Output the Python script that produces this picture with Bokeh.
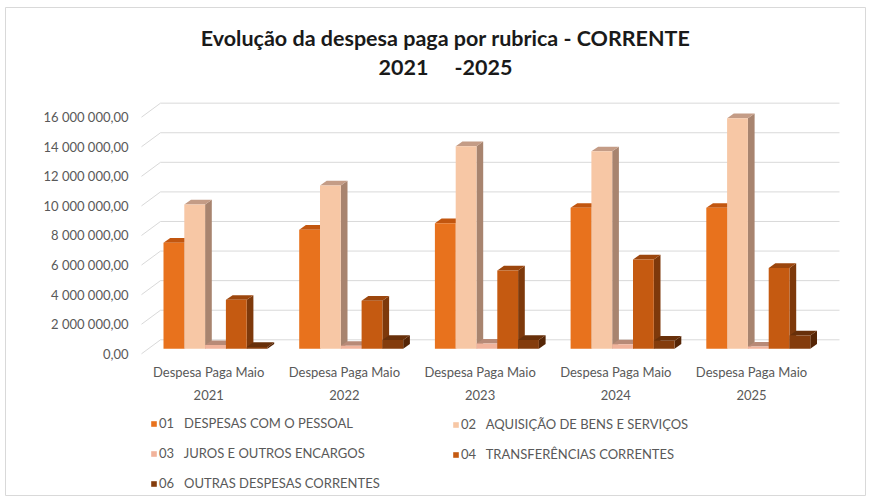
from bokeh.plotting import figure
from bokeh.models import Range1d, FixedTicker, LinearAxis, Legend, LegendItem
from bokeh.core.properties import value
from bokeh.embed import file_html
from bokeh.resources import INLINE

# ---------------- data ----------------
categories = ["Despesa Paga Maio 2021", "Despesa Paga Maio 2022", "Despesa Paga Maio 2023",
              "Despesa Paga Maio 2024", "Despesa Paga Maio 2025"]
category_labels = ["Despesa Paga Maio\n2021", "Despesa Paga Maio\n2022", "Despesa Paga Maio\n2023",
                   "Despesa Paga Maio\n2024", "Despesa Paga Maio\n2025"]
series_names = ["01\u00a0\u00a0 DESPESAS COM O PESSOAL", "02\u00a0\u00a0 AQUISIÇÃO DE BENS E SERVIÇOS",
                "03\u00a0\u00a0 JUROS E OUTROS ENCARGOS", "04\u00a0\u00a0 TRANSFERÊNCIAS CORRENTES",
                "06\u00a0\u00a0 OUTRAS DESPESAS CORRENTES"]
s01 = [7170000, 8050000, 8490000, 9530000, 9530000]
s02 = [9760000, 11040000, 13700000, 13350000, 15590000]
s03 = [250000, 200000, 350000, 300000, 150000]
s04 = [3310000, 3250000, 5290000, 6040000, 5470000]
s06 = [120000, 600000, 600000, 550000, 900000]
y_ticks = [0, 2000000, 4000000, 6000000, 8000000, 10000000, 12000000, 14000000, 16000000]
y_tick_labels = ["0,00", "2 000 000,00", "4 000 000,00", "6 000 000,00", "8 000 000,00",
                 "10 000 000,00", "12 000 000,00", "14 000 000,00", "16 000 000,00"]
title_line1 = "Evolução da despesa paga por rubrica - CORRENTE"
title_line2 = "2021\u00a0\u00a0\u00a0\u00a0 -2025"

series = [s01, s02, s03, s04, s06]
front_colors = ["#E8721D", "#F7C7A5", "#F1B39B", "#C55A11", "#843C0C"]
top_colors = ["#C2560F", "#C49C86", "#B88A77", "#9C460D", "#68300A"]
side_colors = ["#A84C0E", "#A8846F", "#9C7262", "#7E390B", "#552506"]

# ---------------- geometry (page pixels -> data units) ----------------
W, H = 870, 500
BL, BT, BR, BB = 5, 7, 5, 5          # frame inset from canvas edges
FW, FH = W - BL - BR, H - BT - BB
X0 = 208.2        # page x of first category centre (label plane)
CAT_PX = 135.7    # px per category
Y0 = 353.3        # page y of value 0 (label plane)
M_PX = 14.79      # px per 1 000 000


def px_x(page_x):
    return (page_x - X0) / CAT_PX


def px_y(page_y):
    return (Y0 - page_y) / M_PX * 1e6


def dxu(px):
    return px / CAT_PX


def dyu(px):
    return px / M_PX * 1e6


x_range = Range1d(px_x(BL), px_x(BL + FW))
y_range = Range1d(px_y(BT + FH), px_y(BT))

p = figure(width=W, height=H, x_range=x_range, y_range=y_range,
           output_backend="svg", toolbar_location=None,
           x_axis_location=None, y_axis_location=None,
           min_border_left=BL, min_border_right=BR, min_border_top=BT, min_border_bottom=BB)
p.title.visible = False
p.xgrid.visible = False
p.ygrid.visible = False
p.outline_line_color = "#D9D9D9"
p.outline_line_width = 1
p.background_fill_color = "white"
p.border_fill_color = "white"

FONT = "Lato"
TXT = "#595959"

wall_dx, wall_dy = dxu(19), dyu(14)
x_left = px_x(141)
x_right = px_x(839)

# back wall gridlines and left diagonals
p.segment(x0=[x_left + wall_dx] * len(y_ticks), y0=[t + wall_dy for t in y_ticks],
          x1=[x_right] * len(y_ticks), y1=[t + wall_dy for t in y_ticks],
          line_color="#D9D9D9", line_width=1)
p.segment(x0=[x_left] * len(y_ticks), y0=y_ticks,
          x1=[x_left + wall_dx] * len(y_ticks), y1=[t + wall_dy for t in y_ticks],
          line_color="#D9D9D9", line_width=1)

# bars (pseudo 3D)
bw = dxu(20.8)
fdx, fdy = dxu(6.8), dyu(5)
ddx, ddy = dxu(6.7), dyu(4.7)
n = len(series)
front_renderers = []
for j, vals in enumerate(series):
    lefts = [i - n / 2 * bw + j * bw + fdx for i in range(len(categories))]
    rights = [l + bw for l in lefts]
    tops = [v + fdy for v in vals]
    side_xs = [[r, r, r + ddx, r + ddx] for r in rights]
    side_ys = [[fdy, t, t + ddy, fdy + ddy] for t in tops]
    p.patches(xs=side_xs, ys=side_ys, fill_color=side_colors[j], line_color=None)
    top_xs = [[l, r, r + ddx, l + ddx] for l, r in zip(lefts, rights)]
    top_ys = [[t, t, t + ddy, t + ddy] for t in tops]
    p.patches(xs=top_xs, ys=top_ys, fill_color=top_colors[j], line_color=None)
    fr = p.quad(left=lefts, right=rights, bottom=[fdy] * len(vals), top=tops,
                fill_color=front_colors[j], line_color=None)
    front_renderers.append(fr)

# axes
yaxis = LinearAxis(ticker=FixedTicker(ticks=y_ticks), fixed_location=x_left,
                   major_label_overrides=dict(zip(y_ticks, y_tick_labels)),
                   axis_line_color=None, major_tick_line_color=None, minor_tick_line_color=None,
                   major_tick_out=0, major_tick_in=0, major_label_standoff=13,
                   major_label_text_font=FONT, major_label_text_font_size="13px",
                   major_label_text_color=TXT)
p.add_layout(yaxis, "left")

xaxis = LinearAxis(ticker=FixedTicker(ticks=list(range(len(categories)))),
                   fixed_location=px_y(358),
                   major_label_overrides=dict(zip(range(len(categories)), category_labels)),
                   axis_line_color=None, major_tick_line_color=None, minor_tick_line_color=None,
                   major_tick_out=0, major_tick_in=0, major_label_standoff=5,
                   major_label_text_font=FONT, major_label_text_font_size="13px",
                   major_label_text_color=TXT, major_label_text_line_height=1.45)
p.add_layout(xaxis, "below")

# title
tx = px_x(445)
p.text(x=[tx, tx], y=[px_y(37), px_y(66)],
       text=[title_line1, title_line2], text_align="center", text_baseline="middle",
       text_font=value(FONT), text_font_style="bold", text_font_size="21.5px",
       text_color="#1A1A1A")

# legends


def make_legend(idx, page_x, page_top, rows):
    row_h, gap = 15, 14
    height = rows * row_h + (rows - 1) * gap
    vx = page_x - BL
    vy = (BT + FH) - (page_top + height)
    lg = Legend(items=[LegendItem(label=series_names[k], renderers=[front_renderers[k]]) for k in idx],
                location=(vx, vy), orientation="vertical",
                glyph_width=7, glyph_height=7, label_standoff=2, spacing=gap,
                label_height=row_h, padding=0, margin=0,
                border_line_color=None, background_fill_alpha=0,
                label_text_font=FONT, label_text_font_size="13px", label_text_color=TXT)
    p.add_layout(lg)


make_legend([0, 2, 4], 150, 418, 3)
make_legend([1, 3], 452, 418, 2)

open("out.html", "w").write(file_html(p, INLINE))
